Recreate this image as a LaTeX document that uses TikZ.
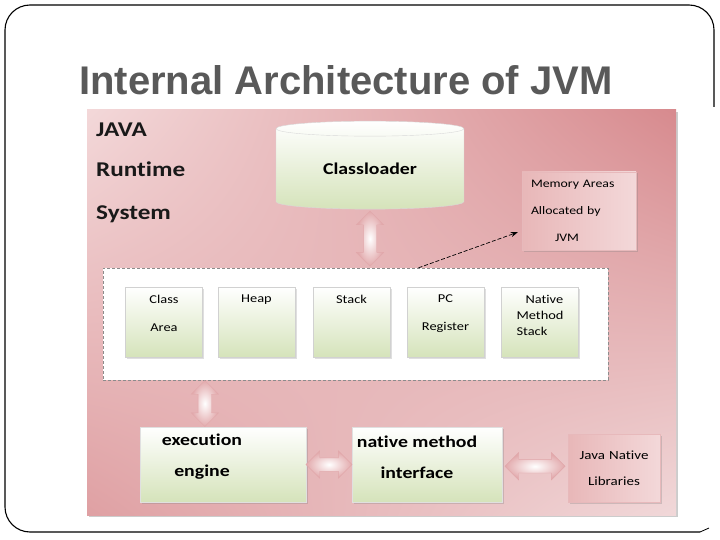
\documentclass[tikz,border=0pt]{standalone}
\usepackage{fontspec}
\setmainfont{Carlito}[FakeStretch=1.2,Ligatures=NoCommon]
\newfontfamily\titlefont{Liberation Sans}
\usetikzlibrary{shapes.geometric,shapes.arrows,shadows,shadings,calc,arrows.meta}

\definecolor{titlegray}{HTML}{595959}
\definecolor{pinkA}{HTML}{F3D8D9}
\definecolor{pinkB}{HTML}{D78A8E}
\definecolor{pinkC}{HTML}{DFA0A3}
\definecolor{pinkD}{HTML}{F1D8D9}
\definecolor{pinkE}{HTML}{E8B7B8}
\definecolor{leafgreen}{HTML}{D5E3BA}

\begin{document}
\begin{tikzpicture}[x=1pt,y=-1pt,
  title/.style={anchor=base west,inner sep=0pt,text=titlegray,font=\titlefont\bfseries\fontsize{40}{48}\selectfont},
  panel/.style={minimum width=589pt,minimum height=405pt,inner sep=0pt,shading=bilinear interpolation,
    upper left=pinkA,upper right=pinkB,lower left=pinkC,lower right=pinkD,
    drop shadow={shadow xshift=2pt,shadow yshift=-2pt,fill=black!50,opacity=.4}},
  heading/.style={anchor=base west,inner sep=0pt,text=black!90,font=\bfseries\fontsize{21}{25}\selectfont},
  loader/.style={cylinder,shape border rotate=90,aspect=0.16,minimum width=188pt,minimum height=88pt,
    draw=black!15,top color=white,bottom color=leafgreen,inner sep=0pt,font=\bfseries\fontsize{16.5}{19}\selectfont},
  note/.style={minimum height=78pt,text width=96pt,inner xsep=9pt,align=left,draw=pinkB!60,
    left color=pinkE,right color=pinkA,font=\fontsize{11.5}{13}\selectfont,
    drop shadow={shadow xshift=1.5pt,shadow yshift=-1.5pt,opacity=.3}},
  memspace/.style={minimum width=505pt,minimum height=112pt,inner sep=0pt,fill=white,draw=black!45,dash pattern=on 3pt off 2pt},
  area/.style={minimum width=77pt,minimum height=70pt,inner sep=0pt,draw=black!18,top color=white,bottom color=leafgreen,
    drop shadow={shadow xshift=1.5pt,shadow yshift=-1.5pt,opacity=.25}},
  areatext/.style={anchor=north,inner sep=0pt,yshift=-8pt,font=\fontsize{12}{14}\selectfont},
  unit/.style={minimum height=75pt,inner sep=0pt,draw=black!12,top color=white,bottom color=leafgreen,
    drop shadow={shadow xshift=1.5pt,shadow yshift=-1.5pt,opacity=.3}},
  unittext/.style={align=center,inner sep=0pt,yshift=7.5pt,font=\bfseries\fontsize{16.5}{19}\selectfont},
  link/.style={double arrow,double arrow head extend=7pt,double arrow tip angle=90,inner sep=6.5pt,
    draw=pinkB!75,inner color=white,outer color=pinkC!90},
  pointer/.style={dash pattern=on 4pt off 2pt,line width=.7pt,-{Stealth[length=7pt,width=5pt]}}
]
\useasboundingbox (0,0) rectangle (720,540);
% slide frame
\draw[line width=1.1pt,rounded corners=25pt] (714,107) -- (714,5) -- (5,5) -- (5,532) -- (700,532);
\draw[line width=.8pt] (700,532) -- (709,528);
\node[title] (title) at (79,95) {Internal Architecture of JVM};

% runtime system
\node[panel] (system) at (381.5,312.5) {};
\node[heading] (java) at (96,137) {JAVA};
\node[heading] (runtime) at (96,177) {Runtime};
\node[heading] (sys) at (96,219) {System};
\node[loader] (loader) at (370,169) {Classloader};
\node[note] (memory) at (579,211) {Memory Areas\\[14pt]Allocated by\\[14pt]\hspace*{24pt}JVM};

% memory areas
\node[memspace] (regions) at (355.5,324) {};
\node[area,label={[areatext,align=center]north:Class\\[14pt]Area}] (classarea) at (164,322) {};
\node[area,label={[areatext]north:Heap}] (heap) at (256.5,322) {};
\node[area,label={[areatext]north:Stack}] (stack) at (351.5,322) {};
\node[area,label={[areatext,align=center]north:PC\\[14pt]Register}] (pc) at (445.5,322) {};
\node[area,label={[areatext,align=left]north:\hspace*{9pt}Native\\[2pt]Method\\[2pt]Stack}] (nstack) at (540,322) {};

% engine and native side
\node[unit,minimum width=166pt,label={[unittext,xshift=-21pt]center:execution\\[12pt]engine}] (exec) at (223,464.5) {};
\node[unit,minimum width=150pt,label={[unittext,xshift=-10pt]center:native method\\[12pt]interface}] (nmi) at (427,464.5) {};
\node[note,minimum height=68pt,text width=92pt,inner xsep=0pt,align=center,font=\fontsize{12.5}{14}\selectfont] (libs) at (614,468) {Java Native\\[12pt]Libraries};

% connectors
\node[link,shape border rotate=90,minimum height=55pt] (a1) at ($(loader.south)!.5!(loader.south|-regions.north)$) {};
\coordinate (execport) at ($(exec.north west)+(65,0)$);
\node[link,shape border rotate=90,minimum height=46pt] (a2) at ($(execport)!.5!(execport|-regions.south)$) {};
\node[link,minimum height=46pt] (a3) at ($(exec.east)!.5!(nmi.west)$) {};
\node[link,minimum height=60pt] (a4) at ($(nmi.east)!.5!(libs.west)$) {};
\coordinate (regtop) at ($(regions.north)+(63,0)$);
\coordinate (memtip) at ($(memory.south west)+(-4,-18)$);
\draw[pointer] (regtop) -- (memtip);
\end{tikzpicture}
\end{document}
